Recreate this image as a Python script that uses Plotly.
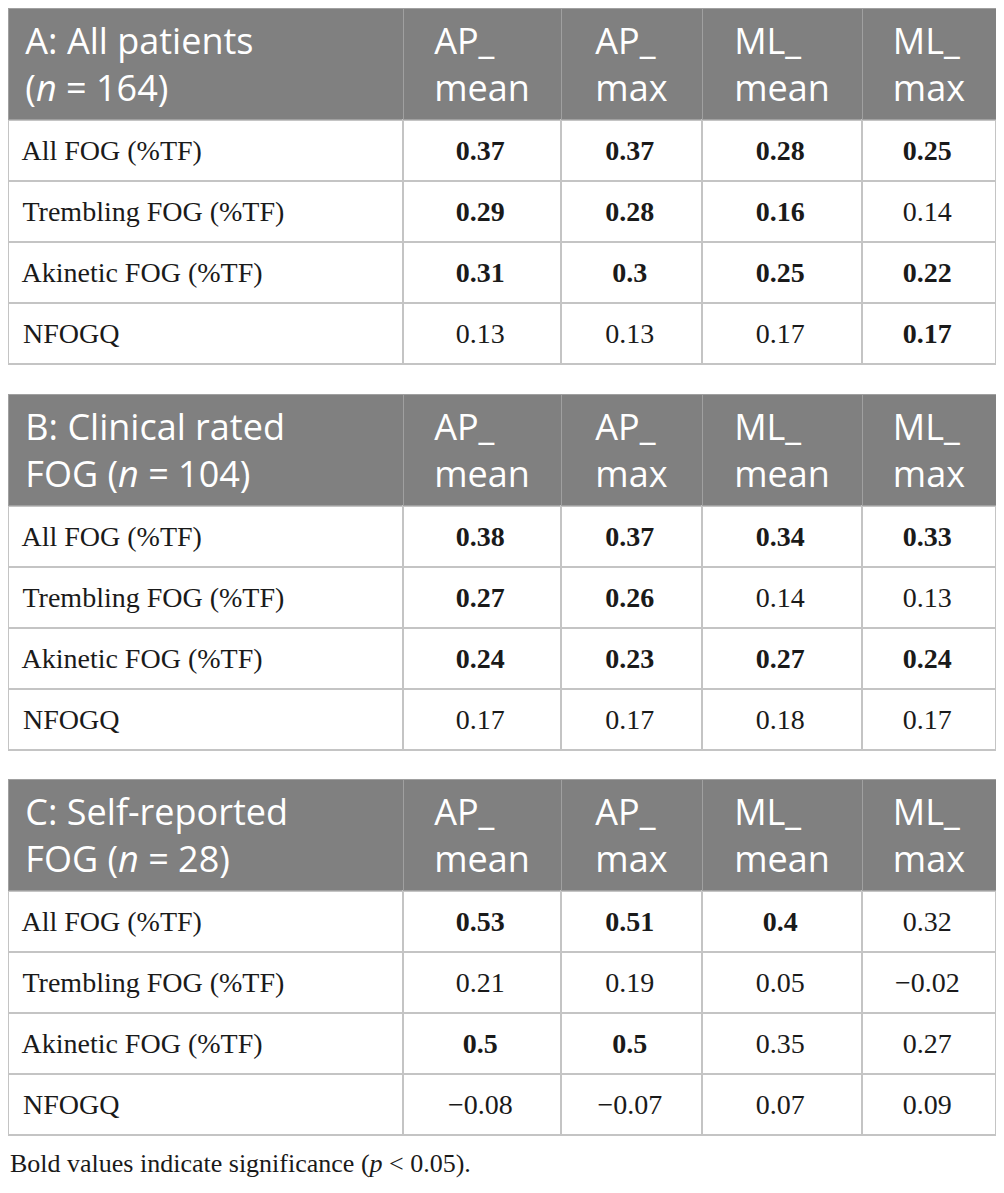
import plotly.graph_objects as go

# the page body has an 8px margin, so the figure is sized to fit the window
W, H = 988, 1177

row_labels = ['All FOG (%TF)', 'Trembling FOG (%TF)', 'Akinetic FOG (%TF)', 'NFOGQ']
col_labels = ['AP_<br>mean', 'AP_<br>max', 'ML_<br>mean', 'ML_<br>max']

titles = [
    ' A: All patients<br> (<i>n</i> = 164)',
    ' B: Clinical rated<br> FOG (<i>n</i> = 104)',
    ' C: Self-reported<br> FOG (<i>n</i> = 28)',
]

# columns: AP_mean, AP_max, ML_mean, ML_max (rows as in row_labels)
values_a = [
    ['0.37', '0.29', '0.31', '0.13'],
    ['0.37', '0.28', '0.3', '0.13'],
    ['0.28', '0.16', '0.25', '0.17'],
    ['0.25', '0.14', '0.22', '0.17'],
]
bold_a = [
    [1, 1, 1, 0],
    [1, 1, 1, 0],
    [1, 1, 1, 0],
    [1, 0, 1, 1],
]
values_b = [
    ['0.38', '0.27', '0.24', '0.17'],
    ['0.37', '0.26', '0.23', '0.17'],
    ['0.34', '0.14', '0.27', '0.18'],
    ['0.33', '0.13', '0.24', '0.17'],
]
bold_b = [
    [1, 1, 1, 0],
    [1, 1, 1, 0],
    [1, 0, 1, 0],
    [1, 0, 1, 0],
]
values_c = [
    ['0.53', '0.21', '0.5', '\u22120.08'],
    ['0.51', '0.19', '0.5', '\u22120.07'],
    ['0.4', '0.05', '0.35', '0.07'],
    ['0.32', '\u22120.02', '0.27', '0.09'],
]
bold_c = [
    [1, 0, 1, 0],
    [1, 0, 1, 0],
    [1, 0, 0, 0],
    [0, 0, 0, 0],
]

col_widths = [395, 158, 141, 160, 134]
# top / bottom pixel of each table block (figure coords)
blocks = [(0, 360), (386, 745), (771, 1131)]

HEAD_FONT = dict(family='Open Sans, Noto Sans, sans-serif', size=36, color='white')
CELL_FONT = dict(family='Liberation Serif, DejaVu Serif, serif', size=28, color='#1a1a1a')
# a raised blank after the text pushes the text itself down to mid-row
PAD = '<sup><sup>\u00a0</sup></sup>'


def fmt(vals, bold):
    out = []
    for col, bcol in zip(vals, bold):
        out.append([(f'<b>{v}</b>' if b else v) + PAD for v, b in zip(col, bcol)])
    return out


fig = go.Figure()
for title, vals, bold, (top, bot) in zip(
        titles, [values_a, values_b, values_c], [bold_a, bold_b, bold_c], blocks):
    fig.add_trace(go.Table(
        domain=dict(x=[0, 1], y=[1 - bot / H, 1 - top / H]),
        columnwidth=col_widths,
        header=dict(
            values=[title] + col_labels,
            fill_color='#808080',
            line_color='#a0a0a0',
            line_width=1,
            align=['left', 'center', 'center', 'center', 'center'],
            font=HEAD_FONT,
            height=110,
        ),
        cells=dict(
            values=[[' ' + r + PAD for r in row_labels]] + fmt(vals, bold),
            fill_color='white',
            line_color='#c4c4c4',
            line_width=1.5,
            align=['left', 'center', 'center', 'center', 'center'],
            font=CELL_FONT,
            height=61,
        ),
    ))

fig.add_annotation(
    text='Bold values indicate significance (<i>p</i> < 0.05).',
    xref='paper', yref='paper', x=0, y=1 - 1155 / H,
    xanchor='left', yanchor='middle', showarrow=False,
    font=dict(family='Liberation Serif, DejaVu Serif, serif', size=26, color='#1a1a1a'),
)

fig.update_layout(
    width=W, height=H,
    margin=dict(l=0, r=0, t=0, b=0),
    paper_bgcolor='white',
)

fig.write_html("out.html")
